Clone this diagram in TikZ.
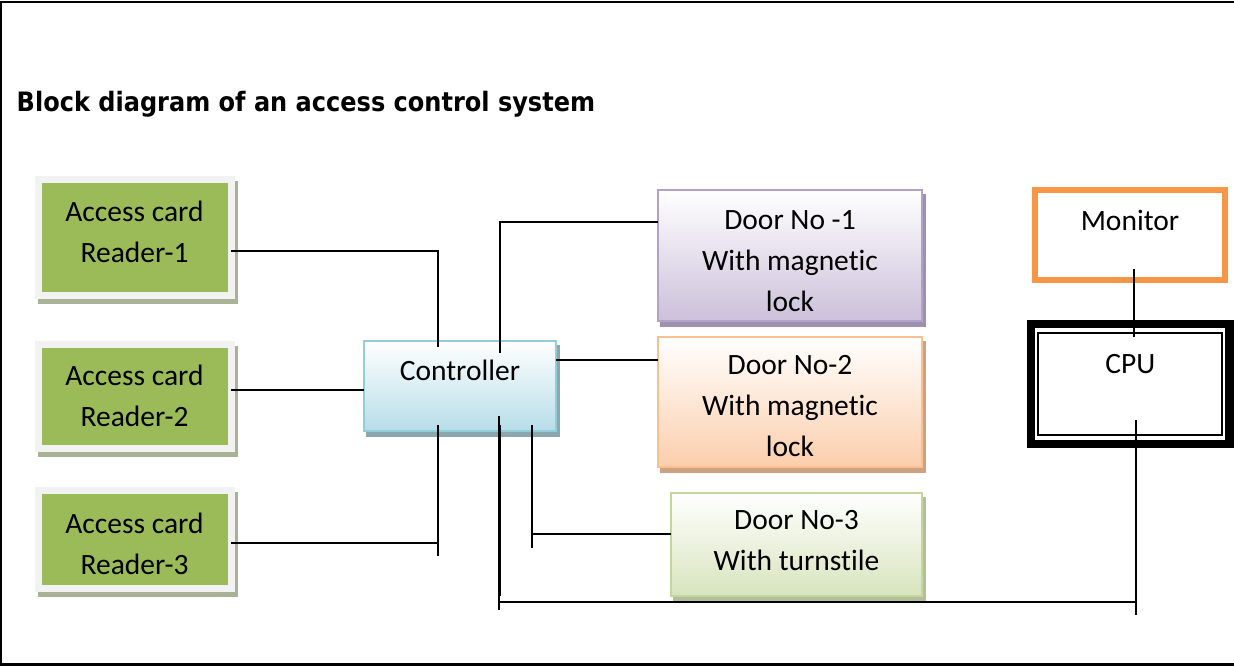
\documentclass[tikz,border=0pt]{standalone}
\usepackage{fontspec}
\setmainfont{Carlito}[Ligatures=NoCommon]
\newfontfamily\titelfont{DejaVu Sans}[FakeStretch=0.9]
\usepackage{xcolor}
\definecolor{lesergruen}{HTML}{9BBB59}
\definecolor{leserrand}{HTML}{F2F2F2}
\definecolor{leserschatten}{HTML}{A7B394}
\definecolor{ctrlrand}{HTML}{92CDDC}
\definecolor{ctrlunten}{HTML}{B7DDE8}
\definecolor{ctrlschatten}{HTML}{8DA7AE}
\definecolor{lila}{HTML}{B3A2C7}
\definecolor{lilaunten}{HTML}{CCC0DA}
\definecolor{lilaschatten}{HTML}{9E91B0}
\definecolor{orange}{HTML}{FAC090}
\definecolor{orangeunten}{HTML}{FBCEAC}
\definecolor{orangeschatten}{HTML}{CDA282}
\definecolor{gruen}{HTML}{C3D69B}
\definecolor{gruenunten}{HTML}{D7E4BD}
\definecolor{gruenschatten}{HTML}{B3BF9A}
\definecolor{monitororange}{HTML}{F79646}

\begin{document}
\begin{tikzpicture}[x=1pt,y=-1pt,
  schatten/.style={preaction={draw=#1,fill=#1,transform canvas={xshift=3pt,yshift=-5pt}}},
  box/.style={rectangle,inner sep=0pt,outer sep=0pt,align=center,font=\fontsize{29.5}{41}\selectfont},
  leser/.style={box,fill=lesergruen,draw=leserrand,line width=7pt,schatten=leserschatten,minimum width=193pt,text depth=0pt},
  tuer/.style n args={3}{box,draw=#1,line width=2pt,top color=white,bottom color=#2,schatten=#3,text depth=0pt},
  leitung/.style={line width=1.6pt}]
\useasboundingbox (0,0) rectangle (1234,666);

%Rahmen und Titel
\draw[line width=2.5pt] (1234,1.8) -- (1.2,1.8) -- (1.2,664.6) -- (1234,664.6);
\node[anchor=base west,inner sep=0pt,font=\titelfont\bfseries\fontsize{26.7}{30}\selectfont] (titel) at (16.5,112) {Block diagram of an access control system};

%Kartenleser links
\node[leser,minimum height=116pt,text height=50.4pt] (r1) at (134.5,237.5) {Access card\\Reader-1};
\node[leser,minimum height=104pt,text height=60.4pt] (r2) at (134.5,396.5) {Access card\\Reader-2};
\node[leser,minimum height=98pt,text height=69.6pt] (r3) at (134.5,539.5) {Access card\\Reader-3};

%Controller
\node[box,draw=ctrlrand,line width=2.5pt,top color=white,bottom color=ctrlunten,schatten=ctrlschatten,
  minimum width=192pt,minimum height=90pt,text height=22pt,text depth=34pt] (ctrl) at (460,386) {Controller};

%Tueren
\node[tuer={lila}{lilaunten}{lilaschatten},minimum width=264pt,minimum height=131pt,text height=111pt] (tuer1) at (790,255.5) {Door No -1\\With magnetic\\lock};
\node[tuer={orange}{orangeunten}{orangeschatten},minimum width=264pt,minimum height=130pt,text height=109.4pt] (tuer2) at (790,402) {Door No-2\\With magnetic\\lock};
\node[tuer={gruen}{gruenunten}{gruenschatten},minimum width=251pt,minimum height=103pt,text height=51pt] (tuer3) at (796.5,544.5) {Door No-3\\With turnstile};

%Monitor und CPU rechts
\node[box,draw=monitororange,line width=6pt,minimum width=190pt,minimum height=90pt,text height=22pt,text depth=30.6pt] (mon) at (1130,235) {Monitor};
\node[box,draw=black,line width=8.5pt,minimum width=198.5pt,minimum height=120pt,text height=22pt,text depth=44pt] (cpu) at (1130.25,384) {CPU};
\draw[line width=1.3pt] ([xshift=7pt,yshift=-9pt]cpu.north west) rectangle ([xshift=-7.5pt,yshift=9pt]cpu.south east);

%Leitungen Leser -> Controller
\coordinate (k1) at (438,250.7);
\coordinate (k1e) at (438,347);
\draw[leitung] (r1.east |- k1) -- (k1) -- (k1e);
\coordinate (k2) at (400,390);
\draw[leitung] (r2.east |- k2) -- (ctrl.west |- k2);
\coordinate (k3) at (438,542.7);
\coordinate (k3o) at (438,425);
\coordinate (k3u) at (438,556);
\draw[leitung] (k3o) -- (k3u);
\draw[leitung] (r3.east |- k3) -- (k3);

%Leitungen Controller -> Tueren
\coordinate (t1) at (500,221.7);
\coordinate (t1e) at (500,353);
\draw[leitung] (tuer1.west |- t1) -- (t1) -- (t1e);
\coordinate (t2) at (600,360);
\draw[leitung] (ctrl.east |- t2) -- (tuer2.west |- t2);
\coordinate (t3) at (532,534);
\coordinate (t3o) at (532,425);
\coordinate (t3u) at (532,548);
\draw[leitung] (t3o) -- (t3u);
\draw[leitung] (t3) -- (tuer3.west |- t3);

%Bus zur CPU
\coordinate (b1o) at (499,416);
\coordinate (b1u) at (499,610);
\coordinate (b1) at (499,601.7);
\coordinate (b2) at (1136,601.7);
\coordinate (b2o) at (1136,420);
\coordinate (b2u) at (1136,615);
\draw[leitung] (b1o) -- (b1u);
\draw[leitung] (500.6,425) -- (500.6,596);
\draw[leitung] (b1) -- (b2);
\draw[leitung] (b2o) -- (b2u);

%Monitor -> CPU
\coordinate (m1) at (1134,269);
\coordinate (m2) at (1134,337);
\draw[leitung] (m1) -- (m2);
\end{tikzpicture}
\end{document}
